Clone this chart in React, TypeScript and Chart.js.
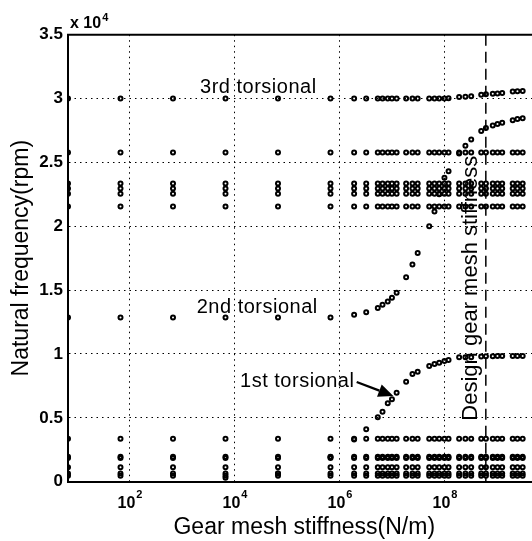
import React, { useEffect, useRef } from "react";
import { Chart, registerables } from "chart.js";

Chart.register(...registerables);

// Gear mesh stiffness values of the sweep (N/m)
const stiffness = [
  6.6, 66, 660, 6.6e3, 6.6e4, 6.6e5,
  1.86e6, 3.16e6, 5.25e6, 6.46e6, 8.13e6, 9.77e6, 1.2e7,
  1.82e7, 2.4e7, 3.02e7,
  5.01e7, 6.31e7, 7.76e7, 9.77e7, 1.17e8,
  1.86e8, 2.45e8, 3.16e8,
  4.9e8, 6.03e8, 8.13e8, 1.0e9, 1.23e9,
  1.95e9, 2.4e9, 3.02e9,
];

// Modes that do not depend on the mesh stiffness (rpm)
const uncoupledModes = [470, 650, 1130, 1860, 1960, 3370, 21550, 22550, 22950, 23350, 25770];

// Torsional modes (rpm), one value per stiffness
const firstTorsional = [
  null, null, null, 300, 650, 1930,
  3300, 4100, 5040, 5480, 6140, 6450, 6970,
  7830, 8430, 8610,
  9060, 9220, 9320, 9450, 9530,
  9740, 9740, 9750,
  9800, 9820, 9830, 9840, 9840,
  9850, 9850, 9850,
];
const secondTorsional = [
  12850, 12850, 12850, 12850, 12850, 12850,
  13080, 13260, 13600, 13850, 14100, 14400, 14800,
  16000, 17000, 17900,
  20000, 21150, 22500, 23800, 24300,
  25700, 26300, 26800,
  27450, 27700, 27900, 28000, 28100,
  28300, 28400, 28460,
];
const thirdTorsional = [
  30000, 30000, 30000, 30000, 30000, 30000,
  30000, 30000, 30000, 30000, 30000, 30000, 30000,
  30000, 30000, 30000,
  30000, 30000, 30000, 30000, 30030,
  30120, 30150, 30180,
  30300, 30330, 30380, 30400, 30430,
  30550, 30570, 30600,
];

const designStiffness = 6.0e8;
const xTicks = [1e2, 1e4, 1e6, 1e8];
const yTicks = [0, 5000, 10000, 15000, 20000, 25000, 30000, 35000];

const curveLabels = [
  { text: "3rd torsional", k: 2160, f: 30410 },
  { text: "2nd torsional", k: 1870, f: 13190 },
  { text: "1st torsional", k: 12500, f: 7440 },
];
const arrowFrom = { k: 2.08e6, f: 7810 };
const arrowTo = { k: 1.04e7, f: 6710 };
const designLabel = { text: "Design gear mesh stiffness", f: 4780 };

const FONT = "'Liberation Sans', Arial, Helvetica, sans-serif";

const overlay = {
  id: "overlay",
  beforeDatasetsDraw(chart: any) {
    const { ctx, chartArea, scales } = chart;
    const dx = scales.x.getPixelForValue(designStiffness);
    ctx.save();
    ctx.strokeStyle = "#000";
    ctx.lineWidth = 1.5;
    ctx.setLineDash([11, 6]);
    ctx.beginPath();
    ctx.moveTo(dx, chartArea.top);
    ctx.lineTo(dx, chartArea.bottom);
    ctx.stroke();
    ctx.restore();
  },
  afterDraw(chart: any) {
    const { ctx, chartArea, scales } = chart;
    const xs = scales.x;
    const ys = scales.y;
    ctx.save();
    // top frame line
    ctx.strokeStyle = "#000";
    ctx.lineWidth = 2;
    ctx.beginPath();
    ctx.moveTo(chartArea.left - 1, chartArea.top);
    ctx.lineTo(chartArea.right, chartArea.top);
    ctx.stroke();

    ctx.fillStyle = "#000";
    // x tick labels 10^n
    for (const v of xTicks) {
      const e = String(Math.round(Math.log10(v)));
      const px = xs.getPixelForValue(v);
      ctx.font = `bold 16px ${FONT}`;
      const w1 = ctx.measureText("10").width;
      ctx.font = `bold 11px ${FONT}`;
      const w2 = ctx.measureText(e).width;
      const start = px - (w1 + w2 + 1) / 2;
      ctx.textAlign = "left";
      ctx.textBaseline = "alphabetic";
      ctx.font = `bold 16px ${FONT}`;
      ctx.fillText("10", start, 508);
      ctx.font = `bold 11px ${FONT}`;
      ctx.fillText(e, start + w1 + 1, 497.5);
    }
    // multiplier
    ctx.font = `bold 16px ${FONT}`;
    ctx.textAlign = "left";
    ctx.fillText("x 10", 70, 28.3);
    const wm = ctx.measureText("x 10").width;
    ctx.font = `bold 11px ${FONT}`;
    ctx.fillText("4", 70 + wm + 1, 20.7);

    // curve labels
    ctx.font = `20px ${FONT}`;
    (ctx as any).letterSpacing = "0.5px";
    for (const l of curveLabels) {
      ctx.fillText(l.text, xs.getPixelForValue(l.k), ys.getPixelForValue(l.f));
    }
    (ctx as any).letterSpacing = "0px";

    // arrow
    const x1 = xs.getPixelForValue(arrowFrom.k);
    const y1 = ys.getPixelForValue(arrowFrom.f);
    const x2 = xs.getPixelForValue(arrowTo.k);
    const y2 = ys.getPixelForValue(arrowTo.f);
    const ang = Math.atan2(y2 - y1, x2 - x1);
    const hl = 15;
    const hw = 6.5;
    const bx = x2 - hl * Math.cos(ang);
    const by = y2 - hl * Math.sin(ang);
    ctx.lineWidth = 2.2;
    ctx.beginPath();
    ctx.moveTo(x1, y1);
    ctx.lineTo(bx, by);
    ctx.stroke();
    ctx.beginPath();
    ctx.moveTo(x2, y2);
    ctx.lineTo(bx + hw * Math.sin(ang), by - hw * Math.cos(ang));
    ctx.lineTo(bx - hw * Math.sin(ang), by + hw * Math.cos(ang));
    ctx.closePath();
    ctx.fill();

    // design label (vertical)
    const dx = xs.getPixelForValue(designStiffness);
    ctx.translate(dx - 15, ys.getPixelForValue(designLabel.f));
    ctx.rotate(-Math.PI / 2);
    ctx.font = `22px ${FONT}`;
    ctx.textAlign = "left";
    ctx.textBaseline = "middle";
    ctx.fillText(designLabel.text, 0, 0);
    ctx.restore();
  },
};

export default function App() {
  const ref = useRef<HTMLCanvasElement | null>(null);

  useEffect(() => {
    if (!ref.current) return;
    const pointStyle = {
      showLine: false,
      pointRadius: 2,
      pointBorderWidth: 2,
      pointBorderColor: "#000",
      pointBackgroundColor: "rgba(0,0,0,0)",
      borderColor: "#000",
      backgroundColor: "rgba(0,0,0,0)",
    };
    const datasets: any[] = [];
    uncoupledModes.forEach((f, i) => {
      datasets.push({
        label: `mode ${i + 1}`,
        data: stiffness.map((k) => ({ x: k, y: f })),
        ...pointStyle,
      });
    });
    [
      ["1st torsional", firstTorsional],
      ["2nd torsional", secondTorsional],
      ["3rd torsional", thirdTorsional],
    ].forEach(([name, arr]: any) => {
      datasets.push({
        label: name,
        data: stiffness
          .map((k, i) => ({ x: k, y: arr[i] }))
          .filter((p) => p.y !== null),
        ...pointStyle,
      });
    });

    const chart = new Chart(ref.current, {
      type: "scatter",
      data: { datasets },
      options: {
        animation: false,
        responsive: false,
        devicePixelRatio: 1,
        events: [],
        layout: { padding: { left: 0, top: 34.7, right: 7.5, bottom: 0 } },
        plugins: {
          legend: { display: false },
          tooltip: { enabled: false },
        },
        scales: {
          x: {
            type: "logarithmic",
            min: 6.6,
            max: 6.6e9,
            afterBuildTicks: (s: any) => {
              s.ticks = xTicks.map((v) => ({ value: v }));
            },
            afterFit: (s: any) => {
              s.height = 59.3;
            },
            ticks: { display: false },
            grid: { color: "#000", lineWidth: 1, drawTicks: false },
            border: { display: true, color: "#000", width: 2, dash: [1.5, 4] },
            title: {
              display: true,
              text: "Gear mesh stiffness(N/m)",
              color: "#000",
              font: { family: FONT, size: 23, lineHeight: 1 },
              padding: { top: 0, bottom: 1.8 },
            },
          },
          y: {
            type: "linear",
            min: 0,
            max: 35000,
            afterBuildTicks: (s: any) => {
              s.ticks = yTicks.map((v) => ({ value: v }));
            },
            afterFit: (s: any) => {
              s.width = 68;
            },
            ticks: {
              color: "#000",
              padding: 5,
              font: { family: FONT, size: 17, weight: "bold" },
              callback: (v: any) => String(Number(v) / 10000),
            },
            grid: { color: "#000", lineWidth: 1, drawTicks: false },
            border: { display: true, color: "#000", width: 2, dash: [1.5, 4] },
            title: {
              display: true,
              text: "Natural frequency(rpm)",
              color: "#000",
              font: { family: FONT, size: 23, lineHeight: 1 },
              padding: { top: 10, bottom: 0 },
            },
          },
        },
      } as any,
      plugins: [overlay as any],
    });
    return () => chart.destroy();
  }, []);

  return (
    <div
      style={{
        position: "fixed",
        left: 0,
        top: 0,
        width: 532,
        height: 541,
        overflow: "hidden",
        background: "#fff",
      }}
    >
      <canvas ref={ref} width={548} height={541} style={{ display: "block" }} />
    </div>
  );
}
